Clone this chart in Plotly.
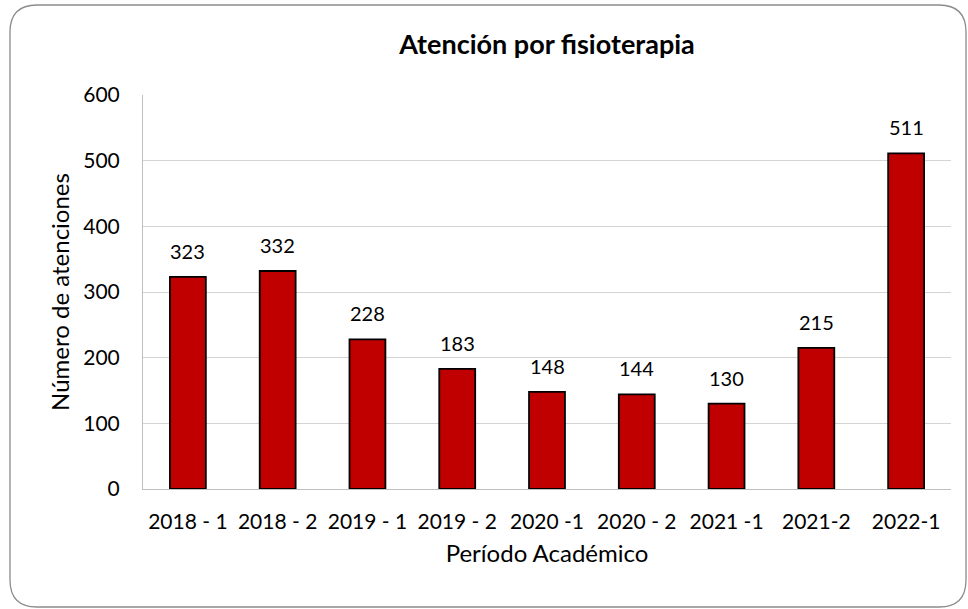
import plotly.graph_objects as go

# ---------------- datos ----------------
periodos = ["2018 - 1", "2018 - 2", "2019 - 1", "2019 - 2", "2020 -1",
            "2020 - 2", "2021 -1", "2021-2", "2022-1"]
atenciones = [323, 332, 228, 183, 148, 144, 130, 215, 511]
ticks_y = [0, 100, 200, 300, 400, 500, 600]

W, H = 968, 609
L, R, T, B = 143, 17, 95, 120
pw, ph = W - L - R, H - T - B


def px_x(v):
    return (v - L) / pw


def px_y(v):
    return (H - B - v) / ph


# marco redondeado del área del gráfico (píxeles -> paper)
x0, x1, y0, y1, rad = 10, 966, 5, 607, 27
path = (
    f"M {px_x(x0 + rad)},{px_y(y0)} L {px_x(x1 - rad)},{px_y(y0)} "
    f"Q {px_x(x1)},{px_y(y0)} {px_x(x1)},{px_y(y0 + rad)} "
    f"L {px_x(x1)},{px_y(y1 - rad)} "
    f"Q {px_x(x1)},{px_y(y1)} {px_x(x1 - rad)},{px_y(y1)} "
    f"L {px_x(x0 + rad)},{px_y(y1)} "
    f"Q {px_x(x0)},{px_y(y1)} {px_x(x0)},{px_y(y1 - rad)} "
    f"L {px_x(x0)},{px_y(y0 + rad)} "
    f"Q {px_x(x0)},{px_y(y0)} {px_x(x0 + rad)},{px_y(y0)} Z"
)

fig = go.Figure()
fig.add_trace(go.Bar(
    x=periodos,
    y=atenciones,
    marker=dict(color="#C00000", line=dict(color="#000000", width=1.8)),
))

# etiquetas de datos encima de cada barra
for p, v in zip(periodos, atenciones):
    fig.add_annotation(x=p, y=v, text=str(v), showarrow=False,
                       yanchor="bottom", yshift=12,
                       font=dict(size=20, color="#000000"))

fig.update_layout(
    width=W, height=H,
    margin=dict(l=L, r=R, t=T, b=B),
    paper_bgcolor="white",
    plot_bgcolor="white",
    font=dict(family="Lato, Open Sans, sans-serif", size=21, color="#000000"),
    title=dict(text="<b>Atención por fisioterapia</b>", x=0.5, xanchor="center",
               xref="paper", y=1 - 45 / H, yanchor="middle", font=dict(size=27)),
    bargap=0.6,
    showlegend=False,
    shapes=[dict(type="path", path=path, xref="paper", yref="paper",
                 line=dict(color="#8c8c8c", width=1.3), layer="below")],
)
fig.update_xaxes(
    type="category",
    title=dict(text="Período Académico", font=dict(size=24), standoff=12),
    showline=True, linecolor="#bfbfbf", linewidth=1,
    tickfont=dict(size=21), ticks="", showgrid=False, ticklabelstandoff=14,
)
fig.update_yaxes(
    title=dict(text="Número de atenciones", font=dict(size=24), standoff=6),
    range=[0, 600], tickvals=ticks_y,
    showline=True, linecolor="#bfbfbf", linewidth=1,
    gridcolor="#d4d4d4", gridwidth=1, zeroline=False,
    tickfont=dict(size=21), ticks="", ticklabelstandoff=18,
)

# quitar el margen del body para que la figura empiece en (0,0)
fig.write_html("out.html", config={"displayModeBar": False},
               post_script="document.body.style.margin='0';")
